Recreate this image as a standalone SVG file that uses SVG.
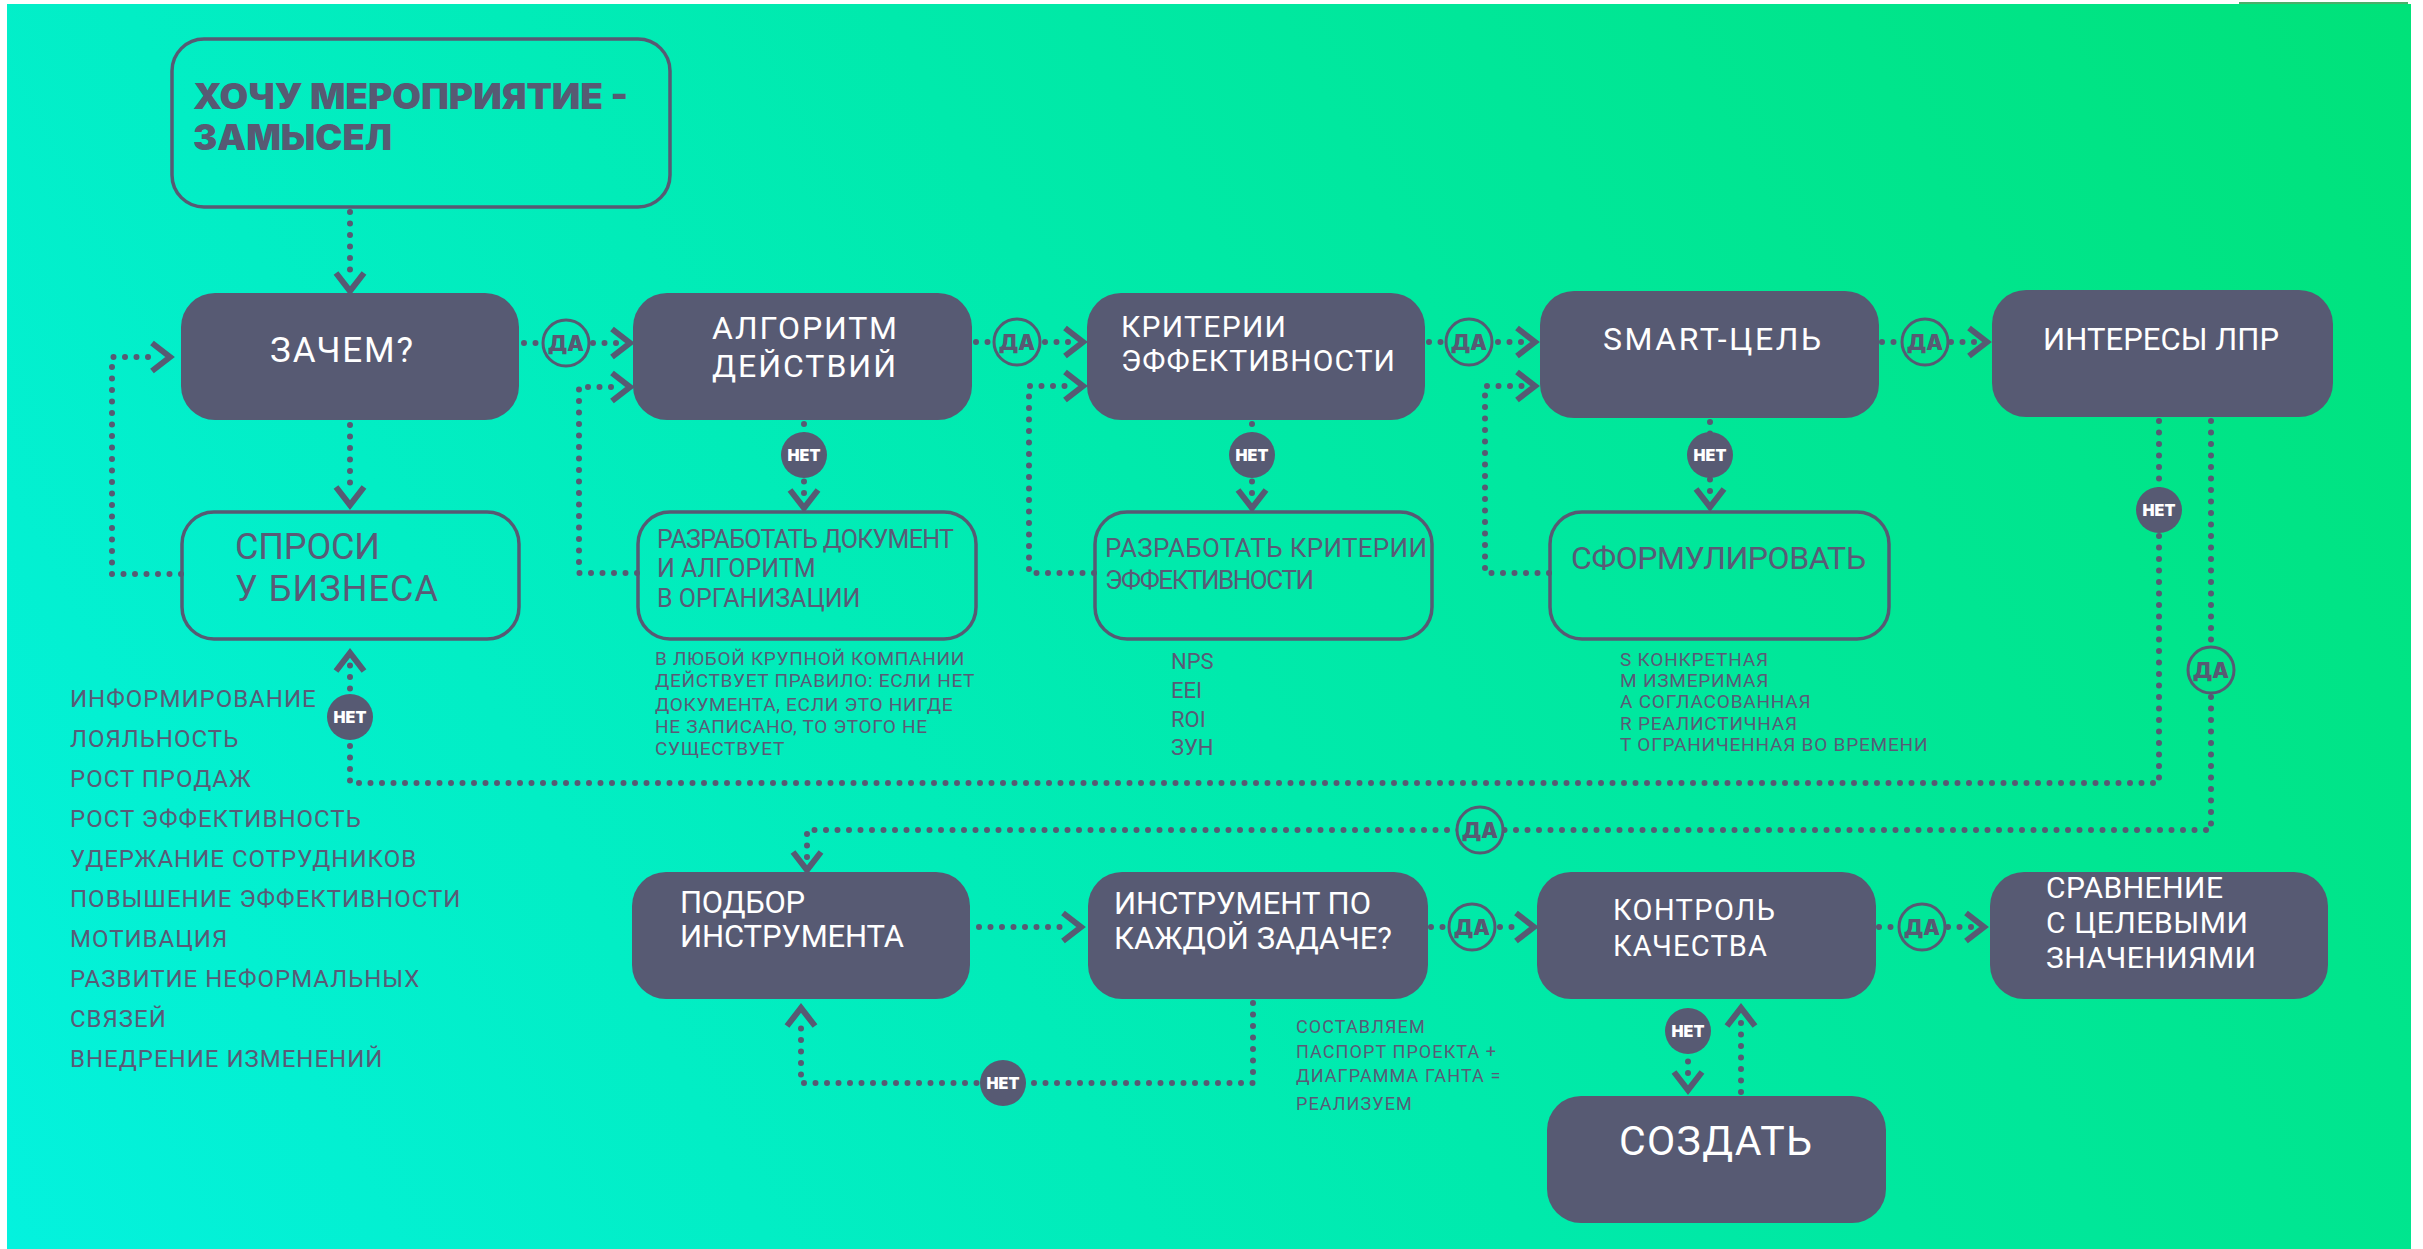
<svg xmlns="http://www.w3.org/2000/svg" width="2423" height="1249" viewBox="0 0 2423 1249">
<defs>
<linearGradient id="bg" gradientUnits="userSpaceOnUse" x1="7" y1="1249" x2="2411" y2="4">
<stop offset="0" stop-color="#04f2de"/>
<stop offset="0.5" stop-color="#00eaac"/>
<stop offset="1" stop-color="#00e279"/>
</linearGradient>
<style>
.node{fill:#575a73}
.outline{fill:none;stroke:#575a73;stroke-width:3.5}
.conn{fill:none;stroke:#575a73;stroke-width:6;stroke-linecap:round;stroke-dasharray:0 11.5}
.chev{fill:none;stroke:#575a73;stroke-width:6;stroke-linejoin:miter}
.da{fill:url(#bg);stroke:#575a73;stroke-width:3}
.net{fill:#575a73}
.wt{font-family:Roboto,"Liberation Sans",sans-serif;fill:#ffffff}
.dt{font-family:Roboto,"Liberation Sans",sans-serif;fill:#5a5a76}
.hv{font-family:Inter,Lato,"Liberation Sans",sans-serif;font-weight:900}
.lbl{font-family:Inter,Lato,"Liberation Sans",sans-serif;font-weight:900;font-size:21px;fill:#575a73;text-anchor:middle}
.nlbl{font-family:Inter,Lato,"Liberation Sans",sans-serif;font-weight:900;font-size:16px;fill:#ffffff;text-anchor:middle}
</style>
</defs>
<rect x="7" y="4" width="2404" height="1245" fill="url(#bg)"/>
<rect x="2239" y="2" width="169" height="2" fill="#4caf6a"/>

<g id="connectors">
<path class="conn" d="M350 212 V280"/>
<polyline class="chev" points="336,273 350,291 364,273"/>
<path class="conn" d="M524 343 H618"/>
<polyline class="chev" points="612,329 630,343 612,357"/>
<path class="conn" d="M181 574 H112 V357 H158"/>
<polyline class="chev" points="152,343 170,357 152,371"/>
<path class="conn" d="M350 425 V494"/>
<polyline class="chev" points="336,487 350,505 364,487"/>
<path class="conn" d="M2159 421 V783 H350 V664"/>
<polyline class="chev" points="336,671 350,653 364,671"/>
<path class="conn" d="M804 424 V497"/>
<polyline class="chev" points="790,490 804,508 818,490"/>
<path class="conn" d="M637 573 H579 V387 H618"/>
<polyline class="chev" points="612,373 630,387 612,401"/>
<path class="conn" d="M976 342 H1071"/>
<polyline class="chev" points="1065,328 1083,342 1065,356"/>
<path class="conn" d="M1094 573 H1029 V386 H1071"/>
<polyline class="chev" points="1065,372 1083,386 1065,400"/>
<path class="conn" d="M1252 424 V497"/>
<polyline class="chev" points="1238,490 1252,508 1266,490"/>
<path class="conn" d="M1429 342 H1523"/>
<polyline class="chev" points="1517,328 1535,342 1517,356"/>
<path class="conn" d="M1549 573 H1485 V386 H1523"/>
<polyline class="chev" points="1517,372 1535,386 1517,400"/>
<path class="conn" d="M1710 422 V496"/>
<polyline class="chev" points="1696,489 1710,507 1724,489"/>
<path class="conn" d="M1882 342 H1975"/>
<polyline class="chev" points="1969,328 1987,342 1969,356"/>
<path class="conn" d="M2211 421 V830 H807 V859"/>
<polyline class="chev" points="793,852 807,870 821,852"/>
<path class="conn" d="M979 927 H1069"/>
<polyline class="chev" points="1063,913 1081,927 1063,941"/>
<path class="conn" d="M1253 1003 V1083 H801 V1019"/>
<polyline class="chev" points="787,1026 801,1008 815,1026"/>
<path class="conn" d="M1431 927 H1522"/>
<polyline class="chev" points="1516,913 1534,927 1516,941"/>
<path class="conn" d="M1879 927 H1972"/>
<polyline class="chev" points="1966,913 1984,927 1966,941"/>
<path class="conn" d="M1688 1050 V1079"/>
<polyline class="chev" points="1674,1072 1688,1090 1702,1072"/>
<path class="conn" d="M1741 1092 V1019"/>
<polyline class="chev" points="1727,1026 1741,1008 1755,1026"/>

<g id="label-da">
<circle class="da" cx="566" cy="343" r="23"/><text class="lbl" x="566" y="350.5">ДА</text>
<circle class="da" cx="1017" cy="342" r="23"/><text class="lbl" x="1017" y="349.5">ДА</text>
<circle class="da" cx="1469" cy="342" r="23"/><text class="lbl" x="1469" y="349.5">ДА</text>
<circle class="da" cx="1925" cy="342" r="23"/><text class="lbl" x="1925" y="349.5">ДА</text>
<circle class="da" cx="2211" cy="670" r="23"/><text class="lbl" x="2211" y="677.5">ДА</text>
<circle class="da" cx="1480" cy="830" r="23"/><text class="lbl" x="1480" y="837.5">ДА</text>
<circle class="da" cx="1472" cy="927" r="23"/><text class="lbl" x="1472" y="934.5">ДА</text>
<circle class="da" cx="1922" cy="927" r="23"/><text class="lbl" x="1922" y="934.5">ДА</text>
</g>
<g id="label-net">
<circle class="net" cx="350" cy="717" r="23"/><text class="nlbl" x="350" y="723">НЕТ</text>
<circle class="net" cx="804" cy="455" r="23"/><text class="nlbl" x="804" y="461">НЕТ</text>
<circle class="net" cx="1252" cy="455" r="23"/><text class="nlbl" x="1252" y="461">НЕТ</text>
<circle class="net" cx="1710" cy="455" r="23"/><text class="nlbl" x="1710" y="461">НЕТ</text>
<circle class="net" cx="2159" cy="510" r="23"/><text class="nlbl" x="2159" y="516">НЕТ</text>
<circle class="net" cx="1003" cy="1083" r="23"/><text class="nlbl" x="1003" y="1089">НЕТ</text>
<circle class="net" cx="1688" cy="1031" r="23"/><text class="nlbl" x="1688" y="1037">НЕТ</text>
</g>
</g>

<g id="n-hochu">
<rect class="outline" x="172" y="39" width="498" height="168" rx="32"/>
<text class="hv" x="193" y="109" font-size="35" fill="#575a73" textLength="435" lengthAdjust="spacingAndGlyphs">ХОЧУ МЕРОПРИЯТИЕ -</text>
<text class="hv" x="193" y="150" font-size="35" fill="#575a73" textLength="199" lengthAdjust="spacingAndGlyphs">ЗАМЫСЕЛ</text>
</g>
<g id="n-zachem">
<rect class="node" x="181" y="293" width="338" height="127" rx="34"/>
<text class="wt" x="270" y="362" font-size="35" textLength="143">ЗАЧЕМ?</text>
</g>
<g id="n-sprosi">
<rect class="outline" x="182" y="512" width="337" height="127" rx="32"/>
<text class="dt" x="235" y="559" font-size="36" textLength="145">СПРОСИ</text>
<text class="dt" x="235" y="601" font-size="36" textLength="203">У БИЗНЕСА</text>
</g>
<g id="n-algoritm">
<rect class="node" x="633" y="293" width="339" height="127" rx="34"/>
<text class="wt" x="712" y="339" font-size="32" textLength="185">АЛГОРИТМ</text>
<text class="wt" x="712" y="377" font-size="32" textLength="184">ДЕЙСТВИЙ</text>
</g>
<g id="n-razrab-doc">
<rect class="outline" x="638" y="512" width="338" height="127" rx="32"/>
<text class="dt" x="657" y="548" font-size="25" textLength="297">РАЗРАБОТАТЬ ДОКУМЕНТ</text>
<text class="dt" x="657" y="577" font-size="25">И АЛГОРИТМ</text>
<text class="dt" x="657" y="607" font-size="25">В ОРГАНИЗАЦИИ</text>
</g>
<g id="note-doc" class="dt" font-size="19" letter-spacing="0.7">
<text x="655" y="665">В ЛЮБОЙ КРУПНОЙ КОМПАНИИ</text>
<text x="655" y="687">ДЕЙСТВУЕТ ПРАВИЛО: ЕСЛИ НЕТ</text>
<text x="655" y="711">ДОКУМЕНТА, ЕСЛИ ЭТО НИГДЕ</text>
<text x="655" y="733">НЕ ЗАПИСАНО, ТО ЭТОГО НЕ</text>
<text x="655" y="755">СУЩЕСТВУЕТ</text>
</g>
<g id="n-kriterii">
<rect class="node" x="1087" y="293" width="338" height="127" rx="34"/>
<text class="wt" x="1121" y="337" font-size="30" textLength="165">КРИТЕРИИ</text>
<text class="wt" x="1121" y="371" font-size="30" textLength="274">ЭФФЕКТИВНОСТИ</text>
</g>
<g id="n-razrab-krit">
<rect class="outline" x="1095" y="512" width="337" height="127" rx="32"/>
<text class="dt" x="1105" y="557" font-size="26" textLength="322">РАЗРАБОТАТЬ КРИТЕРИИ</text>
<text class="dt" x="1105" y="589" font-size="26" textLength="209">ЭФФЕКТИВНОСТИ</text>
</g>
<g id="note-krit" class="dt" font-size="22">
<text x="1171" y="669">NPS</text>
<text x="1171" y="698">EEI</text>
<text x="1171" y="727">ROI</text>
<text x="1171" y="755">ЗУН</text>
</g>
<g id="n-smart">
<rect class="node" x="1540" y="291" width="339" height="127" rx="34"/>
<text class="wt" x="1603" y="350" font-size="32" textLength="218">SMART-ЦЕЛЬ</text>
</g>
<g id="n-sform">
<rect class="outline" x="1550" y="512" width="339" height="127" rx="32"/>
<text class="dt" x="1571" y="569" font-size="32" textLength="295">СФОРМУЛИРОВАТЬ</text>
</g>
<g id="note-smart" class="dt" font-size="19" letter-spacing="0.8">
<text x="1620" y="666">S КОНКРЕТНАЯ</text>
<text x="1620" y="687">M ИЗМЕРИМАЯ</text>
<text x="1620" y="708">A СОГЛАСОВАННАЯ</text>
<text x="1620" y="730">R РЕАЛИСТИЧНАЯ</text>
<text x="1620" y="751">T ОГРАНИЧЕННАЯ ВО ВРЕМЕНИ</text>
</g>
<g id="n-interesy">
<rect class="node" x="1992" y="290" width="341" height="127" rx="34"/>
<text class="wt" x="2043" y="350" font-size="31" textLength="236">ИНТЕРЕСЫ ЛПР</text>
</g>
<g id="list-goals" class="dt" font-size="24" letter-spacing="1">
<text x="70" y="707">ИНФОРМИРОВАНИЕ</text>
<text x="70" y="747">ЛОЯЛЬНОСТЬ</text>
<text x="70" y="787">РОСТ ПРОДАЖ</text>
<text x="70" y="827">РОСТ ЭФФЕКТИВНОСТЬ</text>
<text x="70" y="867">УДЕРЖАНИЕ СОТРУДНИКОВ</text>
<text x="70" y="907">ПОВЫШЕНИЕ ЭФФЕКТИВНОСТИ</text>
<text x="70" y="947">МОТИВАЦИЯ</text>
<text x="70" y="987">РАЗВИТИЕ НЕФОРМАЛЬНЫХ</text>
<text x="70" y="1027">СВЯЗЕЙ</text>
<text x="70" y="1067">ВНЕДРЕНИЕ ИЗМЕНЕНИЙ</text>
</g>
<g id="n-podbor">
<rect class="node" x="632" y="872" width="338" height="127" rx="34"/>
<text class="wt" x="680" y="913" font-size="31" textLength="125">ПОДБОР</text>
<text class="wt" x="680" y="947" font-size="31" textLength="224">ИНСТРУМЕНТА</text>
</g>
<g id="n-instrument">
<rect class="node" x="1088" y="872" width="340" height="127" rx="34"/>
<text class="wt" x="1114" y="914" font-size="31" textLength="257">ИНСТРУМЕНТ ПО</text>
<text class="wt" x="1114" y="949" font-size="31" textLength="278">КАЖДОЙ ЗАДАЧЕ?</text>
</g>
<g id="note-instr" class="dt" font-size="18" letter-spacing="1.1">
<text x="1296" y="1033">СОСТАВЛЯЕМ</text>
<text x="1296" y="1058">ПАСПОРТ ПРОЕКТА +</text>
<text x="1296" y="1082">ДИАГРАММА ГАНТА =</text>
<text x="1296" y="1110">РЕАЛИЗУЕМ</text>
</g>
<g id="n-kontrol">
<rect class="node" x="1537" y="872" width="339" height="127" rx="34"/>
<text class="wt" x="1613" y="920" font-size="29" textLength="162">КОНТРОЛЬ</text>
<text class="wt" x="1613" y="956" font-size="29" textLength="154">КАЧЕСТВА</text>
</g>
<g id="n-sravnenie">
<rect class="node" x="1990" y="872" width="338" height="127" rx="34"/>
<text class="wt" x="2046" y="898" font-size="30" textLength="177">СРАВНЕНИЕ</text>
<text class="wt" x="2046" y="933" font-size="30" textLength="202">С ЦЕЛЕВЫМИ</text>
<text class="wt" x="2046" y="968" font-size="30" textLength="210">ЗНАЧЕНИЯМИ</text>
</g>
<g id="n-sozdat">
<rect class="node" x="1547" y="1096" width="339" height="127" rx="34"/>
<text class="wt" x="1619" y="1155" font-size="41" textLength="193">СОЗДАТЬ</text>
</g>
</svg>
